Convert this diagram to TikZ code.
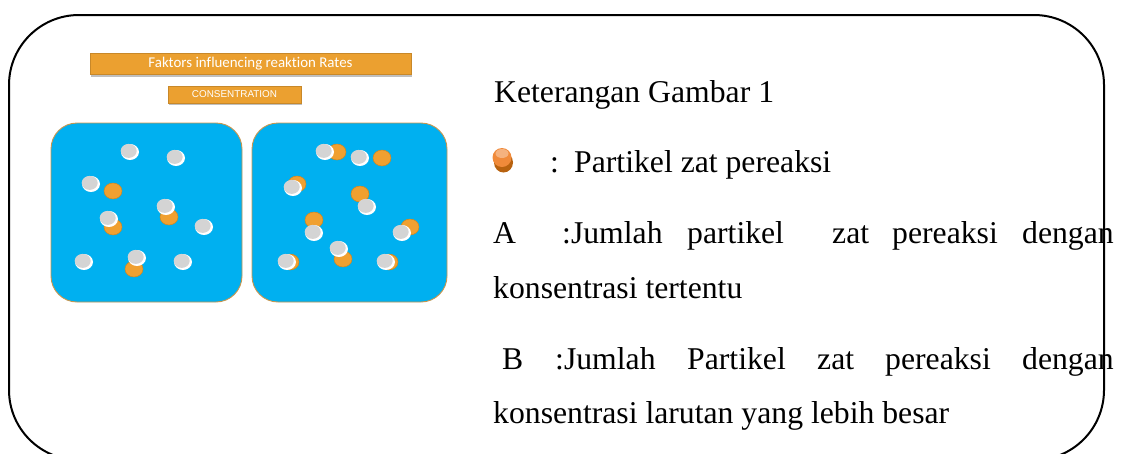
\documentclass[tikz,border=0pt]{standalone}
\usepackage{fontspec}
\setmainfont{Liberation Serif}
\newfontfamily\barfont[Ligatures=NoCommon]{Carlito}
\newfontfamily\capsfont{Liberation Sans}
\usetikzlibrary{shadows}

\definecolor{barorange}{HTML}{EBA030}
\definecolor{waterblue}{HTML}{00B0F0}
\definecolor{rimtan}{HTML}{C8964E}
\definecolor{partorange}{HTML}{F0A030}
\definecolor{partedge}{HTML}{D0871E}
\definecolor{partgray}{HTML}{D4D4D4}
\definecolor{legdark}{HTML}{B8620F}
\definecolor{legball}{HTML}{F08A3A}

\tikzset{
  bodytext/.style={anchor=base west, inner sep=0pt, font=\fontsize{31.7}{38}\selectfont},
  titlebar/.style={fill=barorange, draw=barorange!85!black, line width=0.4pt,
    drop shadow={shadow xshift=0.6pt, shadow yshift=-2.2pt, opacity=0.25, fill=black}},
  beaker/.style={fill=waterblue, draw=rimtan, line width=0.9pt, rounded corners=26pt},
  frame/.style={draw=black, line width=2pt, rounded corners=70pt},
}

% a reacting particle (orange) and a solvent particle (grey with a bright rim)
\newcommand{\orangept}[2]{%
  \fill[partorange, draw=partedge, line width=0.5pt] (#1,#2) ellipse [x radius=9, y radius=8];}
\newcommand{\graypt}[2]{%
  \fill[white] (#1,#2) ellipse [x radius=9, y radius=8];
  \fill[partgray] (#1-1.3,#2-1.1) ellipse [x radius=8, y radius=7];}

\begin{document}
\begin{tikzpicture}[x=1pt,y=-1pt]
  \useasboundingbox (0,0) rectangle (1126,453);
  \clip (0,0) rectangle (1126,453);

  % outer frame (runs past the lower edge)
  \draw[frame] (9,15) rectangle (1104,460);

  % title bars
  \node[titlebar, minimum width=321pt, minimum height=21pt, inner sep=0pt,
        font=\barfont\fontsize{14.9}{16}\selectfont, text=white]
        (title) at (250.5,64) {Faktors influencing reaktion Rates};
  \node[titlebar, minimum width=133pt, minimum height=17pt, inner sep=0pt,
        font=\capsfont\fontsize{9.9}{11}\selectfont, text=white]
        (subtitle) at (234.5,94.5) {CONSENTRATION};

  % beaker A
  \draw[beaker] (51,123) rectangle (242,302);
  \orangept{113}{191}
  \orangept{169}{217}
  \orangept{113}{227}
  \orangept{134}{269}
  \graypt{130}{152}
  \graypt{176}{158}
  \graypt{91}{184}
  \graypt{166}{207}
  \graypt{109}{219}
  \graypt{204}{227}
  \graypt{84}{262}
  \graypt{137}{258}
  \graypt{183}{262}

  % beaker B
  \draw[beaker] (252,123) rectangle (447,302);
  \orangept{337}{152}
  \orangept{382}{158}
  \orangept{297}{184}
  \orangept{360}{194}
  \orangept{314}{220}
  \orangept{410}{227}
  \orangept{290}{262}
  \orangept{343}{259}
  \orangept{389}{262}
  \graypt{325}{152}
  \graypt{360}{158}
  \graypt{293}{188}
  \graypt{367}{207}
  \graypt{314}{233}
  \graypt{402}{233}
  \graypt{287}{262}
  \graypt{339}{249}
  \graypt{386}{262}

  % legend
  \node[bodytext] (head) at (494,102) {Keterangan Gambar 1};

  % legend particle: dark underside, orange body, soft highlight
  \fill[legdark] (503.5,162.5) ellipse [x radius=9.5, y radius=10];
  \fill[legball] (502,157.5) circle [radius=9.5];
  \fill[white, opacity=0.35] (502,153.5) ellipse [x radius=6.5, y radius=4.5];
  \node[bodytext] (colon) at (550,172) {:};
  \node[bodytext] (desc) at (574,172) {Partikel zat pereaksi};

  \node[bodytext] (a1) at (493,243) {A};
  \node[bodytext] (a2) at (562,243) {:Jumlah};
  \node[bodytext] (a3) at (687,243) {partikel};
  \node[bodytext] (a4) at (832,243) {zat};
  \node[bodytext] (a5) at (892,243) {pereaksi};
  \node[bodytext] (a6) at (1022,243) {dengan};
  \node[bodytext] (a7) at (493,298) {konsentrasi tertentu};

  \node[bodytext] (b1) at (502,369) {B};
  \node[bodytext] (b2) at (555,369) {:Jumlah};
  \node[bodytext] (b3) at (687,369) {Partikel};
  \node[bodytext] (b4) at (817,369) {zat};
  \node[bodytext] (b5) at (885,369) {pereaksi};
  \node[bodytext] (b6) at (1022,369) {dengan};
  \node[bodytext] (b7) at (493,423) {konsentrasi larutan yang lebih besar};
\end{tikzpicture}
\end{document}
